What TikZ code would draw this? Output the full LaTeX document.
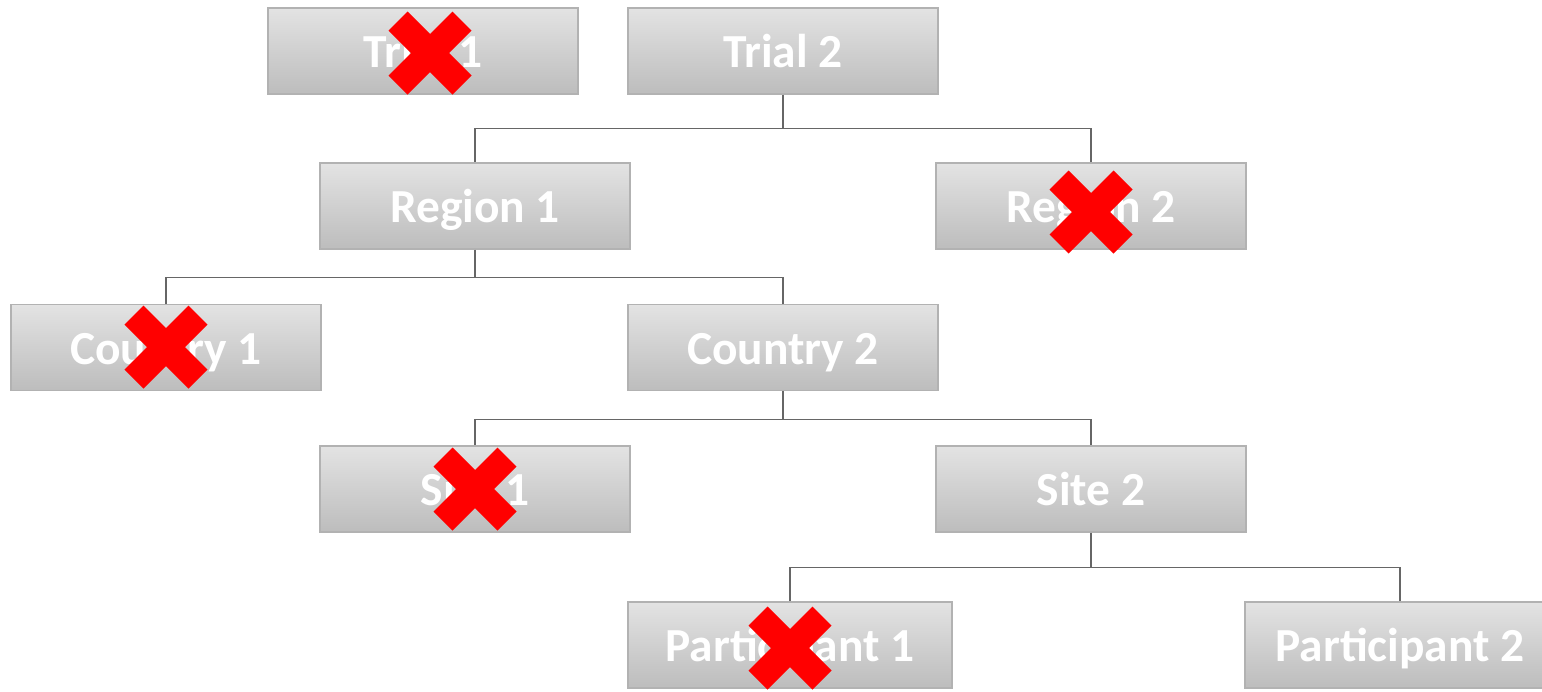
\documentclass[tikz,border=0pt]{standalone}
\usepackage{fontspec}
\setmainfont{Carlito}
\begin{document}
\begin{tikzpicture}[x=0.02cm,y=-0.02cm,
  box/.style={draw=black!30, line width=0.9pt, top color=black!11, bottom color=black!26,
    minimum width=6.2cm, minimum height=1.72cm, inner sep=0pt,
    text=white, font=\bfseries\fontsize{27}{32}\selectfont,
    text height=0.66cm, text depth=0pt},
  conn/.style={draw=black!60, line width=0.6pt},
  xmark/.style={draw=red, line width=15.3pt, line cap=butt}]
\useasboundingbox (0,0) rectangle (1542,691);
\clip (0,0) rectangle (1542,691);
\node[box] (t1) at (423,51) {Trial 1};
\node[box] (t2) at (783,51) {Trial 2};
\node[box] (r1) at (475,206) {Region 1};
\node[box] (r2) at (1091,206) {Region 2};
\node[box] (c1) at (166,347.5) {Country 1};
\node[box] (c2) at (783,347.5) {Country 2};
\node[box] (s1) at (475,489) {Site 1};
\node[box] (s2) at (1091,489) {Site 2};
\node[box, minimum width=6.48cm] (p1) at (790,645) {Participant 1};
\node[box] (p2) at (1400,645) {Participant 2};
\draw[conn] (t2.south) -- ++(0,34) -| (r1.north);
\draw[conn] (t2.south) -- ++(0,34) -| (r2.north);
\draw[conn] (r1.south) -- ++(0,28) -| (c1.north);
\draw[conn] (r1.south) -- ++(0,28) -| (c2.north);
\draw[conn] (c2.south) -- ++(0,28) -| (s1.north);
\draw[conn] (c2.south) -- ++(0,28) -| (s2.north);
\draw[conn] (s2.south) -- ++(0,35) -| (p1.north);
\draw[conn] (s2.south) -- ++(0,35) -| (p2.north);
% red crosses
\foreach \cx/\cy in {430/53, 1091/212, 166/347, 475/489, 790/648}{
  \draw[xmark] (\cx-32,\cy-32) -- (\cx+32,\cy+32);
  \draw[xmark] (\cx-32,\cy+32) -- (\cx+32,\cy-32);
}
\end{tikzpicture}
\end{document}
